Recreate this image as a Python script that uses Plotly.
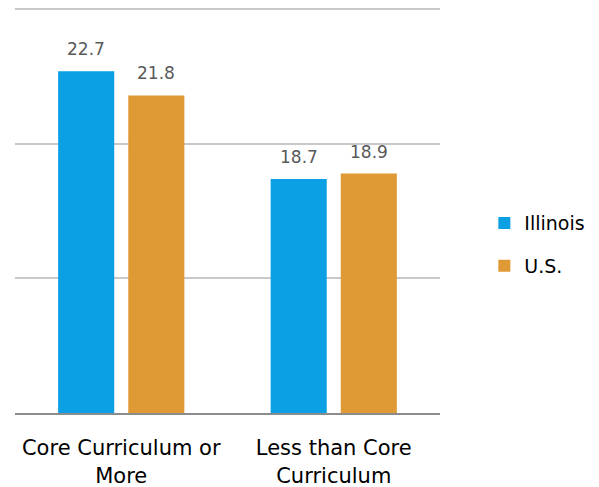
import plotly.graph_objects as go

categories = ["Core Curriculum or<br>More", "Less than Core<br>Curriculum"]
illinois = [22.7, 18.7]
us = [21.8, 18.9]
series_names = ["Illinois", "U.S."]
colors = ["#0B9FE3", "#DF9A35"]

FONT = "DejaVu Sans"

fig = go.Figure()
fig.add_trace(go.Bar(x=categories, y=illinois, name=series_names[0], legendgroup="a",
                     marker=dict(color=colors[0], line=dict(width=0))))
fig.add_trace(go.Bar(x=categories, y=us, name=series_names[1], legendgroup="b",
                     marker=dict(color=colors[1], line=dict(width=0))))

anns = []
for i, c in enumerate(categories):
    for j, vals in enumerate([illinois, us]):
        anns.append(dict(x=c, y=vals[i], text=f"{vals[i]:.1f}", showarrow=False,
                         xref="x", yref="y", yanchor="bottom", yshift=10,
                         xshift=(-35 if j == 0 else 35),
                         font=dict(size=17, color="#595959", family=FONT)))

fig.update_layout(
    width=591, height=479,
    margin=dict(l=7, r=159, t=0, b=74, autoexpand=False),
    paper_bgcolor="white", plot_bgcolor="white",
    barmode="group", bargap=0.34, bargroupgap=0.2,
    font=dict(family=FONT, size=20, color="#000000"),
    annotations=anns,
    xaxis=dict(showgrid=False, showline=True, linecolor="#8c8c8c", linewidth=2,
               ticks="", ticklabelstandoff=15,
               tickfont=dict(size=21, color="#000000", family=FONT)),
    yaxis=dict(range=[10, 25.05], dtick=5, tick0=10, showticklabels=False,
               showgrid=True, gridcolor="#c8c8c8", gridwidth=1.5, zeroline=False, ticks=""),
    legend=dict(xref="container", yref="container", x=0.806, y=0.506,
                xanchor="left", yanchor="middle", traceorder="grouped", tracegroupgap=15,
                font=dict(size=19, family=FONT), bgcolor="rgba(0,0,0,0)"),
)
fig.write_html("out.html")
